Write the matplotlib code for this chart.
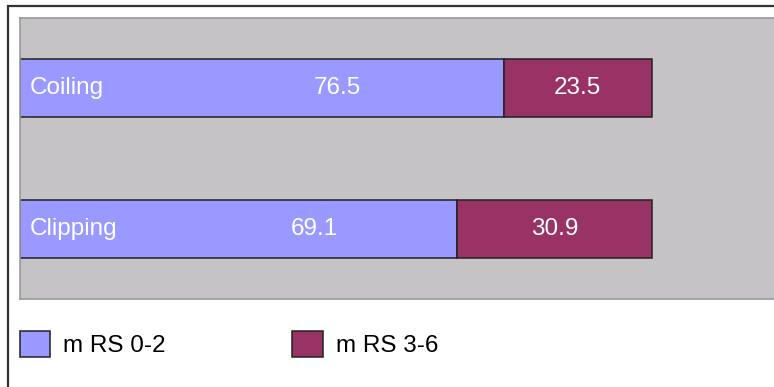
import matplotlib
matplotlib.use("Agg")
import matplotlib.pyplot as plt
from matplotlib.patches import Rectangle, Patch

# Outcome shares per occlusion technique
categories = ["Clipping", "Coiling"]
good_outcome = [69.1, 76.5]      # mRS 0-2
poor_outcome = [30.9, 23.5]      # mRS 3-6
series_labels = ["m RS 0-2", "m RS 3-6"]

W, H = 774, 387
fig = plt.figure(figsize=(W / 100, H / 100), dpi=100)
fig.patch.set_facecolor("white")
plt.rcParams["font.family"] = ["Liberation Sans", "DejaVu Sans"]

# Outer chart frame
fig.add_artist(Rectangle((8 / W, -0.1), 1.2, (H - 6) / H + 0.1,
                         transform=fig.transFigure, fill=False,
                         edgecolor="#333333", linewidth=1.6))

ax = fig.add_axes([20 / W, (H - 299) / H, 1.0 - 20 / W + 0.01, (299 - 18) / H])
ax.set_facecolor("#C6C3C6")
for side in ["top", "bottom", "left"]:
    ax.spines[side].set_color("#9a9a9a")
    ax.spines[side].set_linewidth(1.2)
ax.spines["right"].set_visible(False)

blue = "#9999FF"
maroon = "#993366"
y = list(range(len(categories)))
bh = 0.41

ax.barh(y, good_outcome, height=bh, color=blue, edgecolor="#222222", linewidth=1.1)
ax.barh(y, poor_outcome, left=good_outcome, height=bh, color=maroon,
        edgecolor="#222222", linewidth=1.1)

fs = 17.5
for yi, cat, g, p in zip(y, categories, good_outcome, poor_outcome):
    ax.text(1.6, yi, cat, color="white", fontsize=fs, va="center", ha="left")
    ax.text(g / 2 + 12, yi, f"{g:.1f}", color="white", fontsize=fs, va="center", ha="center")
    ax.text(g + p / 2, yi, f"{p:.1f}", color="white", fontsize=fs, va="center", ha="center")

ax.set_xlim(0, 120.5)
ax.set_ylim(-0.5, 1.5)
ax.set_xticks([])
ax.set_yticks([])

# Legend below the plot area
handles = [Patch(facecolor=blue, edgecolor="#222222", linewidth=1.1),
           Patch(facecolor=maroon, edgecolor="#222222", linewidth=1.1)]
fig.legend(handles, series_labels, loc="lower left",
           bbox_to_anchor=(10 / W, (H - 367) / H), ncol=2, frameon=False,
           fontsize=fs, handlelength=1.25, handleheight=1.3,
           handletextpad=0.55, columnspacing=5.2, borderaxespad=0)

fig.savefig("out.png", dpi=100, facecolor="white")
